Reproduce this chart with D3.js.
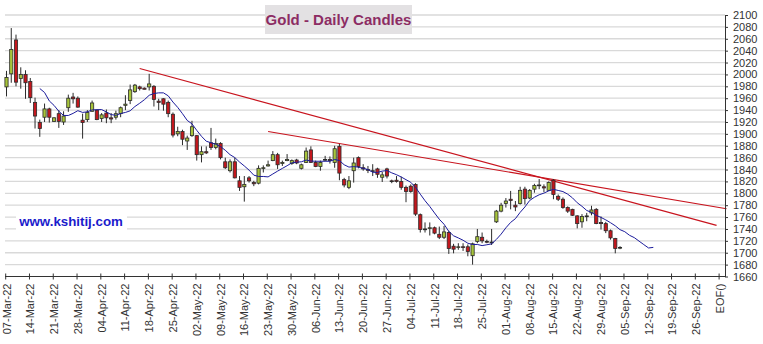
<!DOCTYPE html>
<html>
<head>
<meta charset="utf-8">
<script src="https://cdn.jsdelivr.net/npm/d3@7"></script>
<style>
  html, body { margin: 0; padding: 0; background: #ffffff; }
  svg { display: block; font-family: "Liberation Sans", Arial, sans-serif; }
</style>
</head>
<body>
<svg id="chart" width="763" height="344"></svg>
<script>
// Daily gold sessions, one entry per weekday starting 07-Mar-22
const opens = [1979,2001,2058,1993,2000,1988,1953,1919,1928,1942,1921,1934,1920,1944,1962,1960,1923,1924,1938,1940,
  1926,1935,1927,1928,1934,1948,1956,1971,1979,1977,1979,1980,1955,1959,1953,1933,1900,1904,1888,1897,
  1897,1865,1870,1885,1877,1884,1853,1838,1853,1821,1811,1826,1818,1817,1842,1846,1855,1865,1850,1855,
  1850,1856,1842,1852,1873,1852,1845,1856,1857,1852,1879,1823,1810,1838,1860,1843,1840,1838,1841,1827,
  1841,1821,1822,1820,1810,1812,1815,1764,1739,1741,1742,1731,1726,1734,1711,1709,1710,1710,1695,1719,
  1726,1719,1718,1752,1770,1783,1790,1780,1783,1807,1792,1807,1814,1811,1805,1822,1795,1790,1776,1773,
  1762,1752,1761,1767,1773,1751,1749,1737,1724,1708];
const highs = [2006,2078,2067,2012,2007,1994,1961,1924,1951,1944,1928,1940,1938,1966,1969,1963,1934,1940,1956,1941,
  1935,1941,1935,1939,1946,1965,1983,1984,1981,1978,2001,1982,1959,1960,1956,1936,1912,1907,1897,1922,
  1898,1879,1879,1910,1892,1886,1860,1857,1860,1829,1829,1829,1821,1847,1847,1855,1871,1868,1855,1866,
  1857,1858,1850,1877,1879,1855,1855,1863,1862,1880,1883,1826,1829,1860,1862,1849,1846,1849,1843,1836,
  1843,1823,1829,1828,1813,1815,1817,1766,1751,1751,1744,1744,1745,1737,1715,1716,1716,1714,1717,1740,
  1734,1722,1740,1772,1784,1792,1804,1787,1811,1811,1807,1816,1824,1815,1820,1824,1798,1793,1778,1774,
  1763,1765,1767,1779,1775,1761,1752,1739,1725,1711];
const lows = [1963,1986,1980,1976,1959,1952,1909,1895,1920,1919,1920,1910,1915,1937,1951,1944,1892,1920,1937,1923,
  1920,1918,1918,1924,1928,1940,1950,1969,1973,1975,1973,1946,1940,1939,1928,1894,1896,1881,1873,1895,
  1855,1852,1866,1873,1874,1857,1841,1835,1825,1804,1786,1818,1812,1815,1835,1845,1854,1841,1846,1854,
  1848,1849,1840,1851,1851,1844,1838,1854,1850,1843,1822,1810,1807,1818,1842,1838,1834,1829,1826,1819,
  1825,1817,1818,1806,1785,1801,1762,1734,1734,1729,1731,1723,1723,1698,1699,1705,1703,1694,1680,1716,
  1716,1716,1713,1750,1768,1776,1773,1770,1781,1781,1790,1801,1807,1802,1804,1790,1787,1774,1767,1762,
  1741,1742,1753,1763,1748,1739,1733,1722,1699,1706];
const closes = [1995,2042,1987,2000,1986,1961,1930,1909,1942,1928,1927,1921,1930,1960,1959,1945,1919,1936,1952,1924,
  1932,1927,1925,1934,1944,1950,1974,1982,1976,1975,1984,1958,1953,1950,1934,1898,1904,1891,1893,1912,
  1865,1870,1868,1877,1884,1860,1843,1853,1826,1810,1815,1821,1816,1842,1843,1848,1865,1848,1852,1857,
  1855,1851,1848,1871,1852,1845,1852,1857,1855,1875,1834,1814,1821,1851,1845,1841,1839,1838,1832,1831,
  1829,1820,1820,1810,1803,1803,1765,1739,1740,1742,1733,1726,1735,1707,1706,1710,1709,1702,1715,1727,
  1720,1718,1718,1770,1780,1787,1788,1777,1805,1791,1805,1813,1814,1809,1818,1798,1790,1776,1770,1763,
  1749,1761,1762,1772,1749,1749,1737,1725,1707,1709];

// 8-day moving average, first value on session 8, running 7 sessions past the last candle
const maStart = 7;
const ma8 = [1976.3,1969.6,1955.4,1947.9,1938.0,1931.0,1930.9,1934.5,1939.0,1936.1,1937.1,1940.3,1940.6,1940.9,1936.8,
  1932.5,1931.1,1934.3,1936.0,1938.8,1946.0,1951.5,1957.5,1964.9,1967.9,1969.0,1969.0,1964.0,1953.5,1944.5,
  1934.0,1922.6,1916.9,1905.9,1895.9,1887.6,1885.0,1882.5,1878.6,1872.4,1865.0,1860.1,1852.6,1846.0,1839.0,
  1830.5,1828.3,1828.3,1827.6,1832.5,1837.3,1841.9,1846.4,1851.3,1852.4,1853.0,1855.9,1854.3,1853.9,1853.9,
  1853.9,1853.9,1856.9,1855.1,1848.0,1844.1,1844.9,1844.0,1842.0,1840.0,1835.4,1835.1,1837.3,1838.3,1834.4,
  1831.3,1827.4,1822.9,1818.5,1810.1,1798.6,1787.5,1777.8,1766.9,1756.4,1747.9,1735.9,1728.5,1724.9,1721.0,
  1716.0,1713.8,1713.9,1712.0,1713.4,1714.9,1722.4,1731.3,1741.9,1751.0,1757.3,1767.9,1777.0,1787.9,1793.3,
  1797.5,1800.3,1804.0,1806.6,1804.8,1802.9,1798.5,1792.3,1784.1,1778.1,1771.1,1767.9,1762.8,1759.4,1755.3,
  1750.5,1745.3,1738.8,1735.4,1729.3,1725.4,1719.5,1713.7,1708.0,1709.0];

// Trend lines as (session index, price) end points
const trendA = [[28, 2010], [149.3, 1746]];
const trendB = [[55, 1904], [151.4, 1774]];

// Weekly axis labels, one every five sessions
const weekLabels = ["07-Mar-22","14-Mar-22","21-Mar-22","28-Mar-22","04-Apr-22","11-Apr-22","18-Apr-22","25-Apr-22",
  "02-May-22","09-May-22","16-May-22","23-May-22","30-May-22","06-Jun-22","13-Jun-22","20-Jun-22","27-Jun-22",
  "04-Jul-22","11-Jul-22","18-Jul-22","25-Jul-22","01-Aug-22","08-Aug-22","15-Aug-22","22-Aug-22","29-Aug-22",
  "05-Sep-22","12-Sep-22","19-Sep-22","26-Sep-22","EOF()"];
const priceTicks = [1660,1680,1700,1720,1740,1760,1780,1800,1820,1840,1860,1880,1900,1920,1940,1960,1980,2000,2020,2040,2060,2080,2100];

const titleText = "Gold - Daily Candles";
const siteText = "www.kshitij.com";

const svg = d3.select("#chart");
const plotLeft = 5, plotRight = 725;
const x = d3.scaleLinear().domain([0, (weekLabels.length - 1) * 5]).range([6.5, 719.9]);
const y = d3.scaleLinear().domain([1660, 2100]).range([276.5, 15]);

// horizontal grid
svg.append("g")
  .selectAll("line")
  .data(priceTicks.slice(1))
  .join("line")
  .attr("x1", plotLeft).attr("x2", plotRight)
  .attr("y1", d => y(d)).attr("y2", d => y(d))
  .attr("stroke", "#d9d9d9").attr("stroke-width", 1.3);

// title
const tg = svg.append("g");
tg.append("rect").attr("x", 265).attr("y", 5).attr("width", 147).attr("height", 29).attr("fill", "#e3e1e3");
tg.append("text").attr("x", 338.5).attr("y", 24.5).attr("text-anchor", "middle")
  .attr("font-size", 15).attr("font-weight", "bold").attr("fill", "#8c2c63").text(titleText);

// site label
const sg = svg.append("g");
sg.append("rect").attr("x", 16).attr("y", 213).attr("width", 111).attr("height", 17).attr("fill", "#ffffff");
sg.append("text").attr("x", 71).attr("y", 226).attr("text-anchor", "middle")
  .attr("font-size", 13.3).attr("font-weight", "bold").attr("fill", "#1b1bcc").text(siteText);

// trend lines
svg.append("g").selectAll("line")
  .data([trendA, trendB])
  .join("line")
  .attr("x1", d => x(d[0][0])).attr("y1", d => y(d[0][1]))
  .attr("x2", d => x(d[1][0])).attr("y2", d => y(d[1][1]))
  .attr("stroke", "#c8141e").attr("stroke-width", 1.2);

// candles
const candles = opens.map((o, i) => ({ i, o, h: highs[i], l: lows[i], c: closes[i] }));
const cg = svg.append("g");
const bodyW = 3.2;
const cand = cg.selectAll("g").data(candles).join("g");
cand.append("line")
  .attr("x1", d => x(d.i)).attr("x2", d => x(d.i))
  .attr("y1", d => y(d.h)).attr("y2", d => y(d.l))
  .attr("stroke", "#2b2b2b").attr("stroke-width", 1);
cand.append("rect")
  .attr("x", d => x(d.i) - bodyW / 2)
  .attr("width", bodyW)
  .attr("y", d => y(Math.max(d.o, d.c)))
  .attr("height", d => Math.max(0.8, Math.abs(y(d.o) - y(d.c))))
  .attr("fill", d => d.c > d.o ? "#a7c43b" : (d.c < d.o ? "#c3171d" : "#333"))
  .attr("stroke", "#2b2b2b").attr("stroke-width", 0.8);

// moving average
const line = d3.line().x((d, k) => x(maStart + k)).y(d => y(d));
svg.append("path").datum(ma8).attr("d", line)
  .attr("fill", "none").attr("stroke", "#1c1c9c").attr("stroke-width", 1);

// y axis on the right
const yAxis = d3.axisRight(y).tickValues(priceTicks).tickSize(3).tickSizeOuter(0).tickFormat(d3.format("d"));
const ya = svg.append("g").attr("transform", `translate(${plotRight},0)`).call(yAxis);
ya.select(".domain").attr("stroke", "#333");
ya.selectAll(".tick line").attr("stroke", "#333");
ya.selectAll(".tick text").attr("x", 8).attr("font-size", 11).attr("fill", "#333")
  .attr("font-family", "Liberation Sans, Arial, sans-serif");

// x axis along the bottom
const xAxis = d3.axisBottom(x).tickValues(d3.range(0, weekLabels.length * 5, 5))
  .tickFormat((d, k) => weekLabels[k]).tickSize(3).tickSizeOuter(0);
const xa = svg.append("g").attr("transform", `translate(0,${y(1660)})`).call(xAxis);
xa.select(".domain").attr("d", `M${plotLeft},0H${plotRight}`).attr("stroke", "#333");
xa.selectAll(".tick").attr("transform", d => `translate(${x(d) - 0.8},0)`);
xa.selectAll(".tick line").attr("y1", -3).attr("y2", 3).attr("stroke", "#333");
xa.selectAll(".tick text")
  .attr("transform", "rotate(-90)")
  .attr("x", -7).attr("y", 1).attr("dy", "0.35em")
  .attr("text-anchor", "end")
  .attr("font-size", 11).attr("fill", "#333")
  .attr("font-family", "Liberation Sans, Arial, sans-serif");
</script>
</body>
</html>
